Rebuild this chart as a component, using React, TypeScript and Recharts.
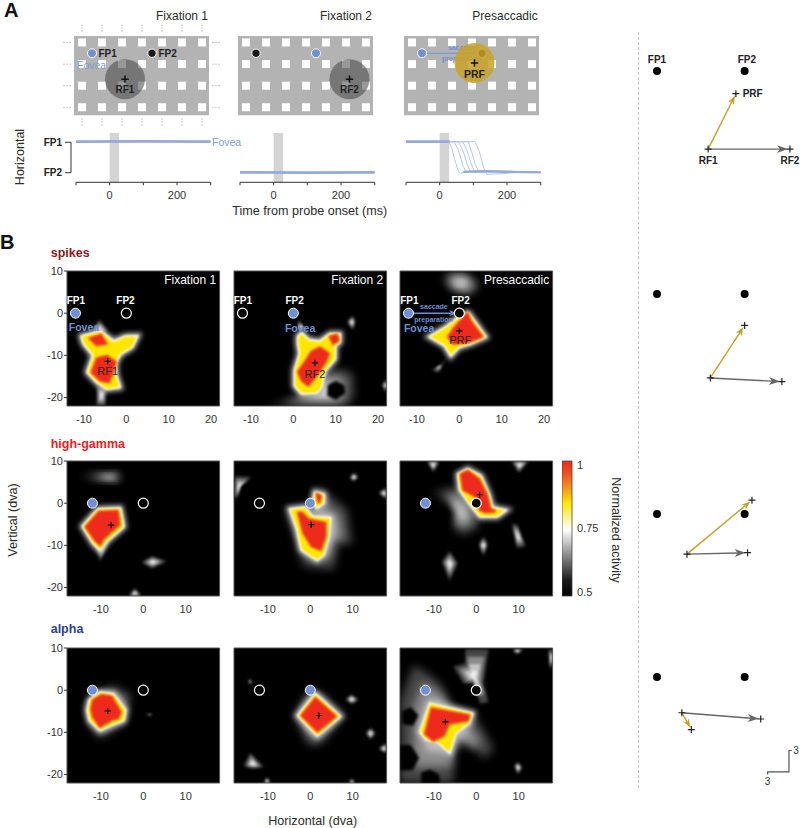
import React from 'react'
import {
  Bar,
  BarChart,
  Line,
  LineChart,
  ReferenceArea,
  Scatter,
  ScatterChart,
  XAxis,
  YAxis,
} from 'recharts'

type Pt = number[]

// stimulus display (dva)
const gridX = [-14, -10, -6, -2, 2, 6, 10]
const gridY = [2, -2, -6, -10]
const dotsLeft = [-17.6, -17, -16.4]
const dotsRight = [12.2, 12.8, 13.4]
const dotsAbove = [5.2, 4.7, 4.1]
const dotsBelow = [-12.2, -12.7, -13.3]

// eye traces, time (ms) vs horizontal position (dva)
const timeTicks = [-100, 0, 100, 200, 300]
const probeWindow = [0, 28]
const fixation1Trace = [[-100, -12], [100, -12.1], [300, -12]]
const fixation2Trace = [[-100, 0], [100, 0.1], [300, 0]]
const presaccadicStart = [[-100, -12], [30, -12]]
const presaccadicEnd = [[70, -0.2], [130, -0.4], [200, -0.2], [300, 0]]
const presaccadicTrials = [
  [[-100, -12], [25, -12], [35, -10], [45, -5], [55, -0.5], [62, 0.4], [75, -0.4], [120, -0.5], [300, 0]],
  [[-100, -12], [42, -12], [55, -9], [68, -3], [78, -0.2], [90, -0.3], [150, -0.6], [300, 0]],
  [[-100, -12], [55, -12], [68, -9], [82, -3], [92, -0.1], [110, -0.3], [180, -0.5], [300, 0]],
  [[-100, -12], [68, -12], [80, -9], [92, -4], [104, 0], [120, -0.2], [170, -0.6], [300, 0]],
  [[-100, -12], [85, -12], [95, -8], [106, -3], [116, -0.3], [140, -0.4], [220, -0.2], [300, 0]],
  [[-100, -12], [105, -12], [118, -8], [130, -2], [140, 0.8], [200, 0.4], [240, -0.2], [300, 0]],
]

// heat map contours per panel (dva)
const spikesFix1Body = [[[-10.5, -5.5], [-6.1, -4.4], [-3, -6.8], [-0.2, -5.6], [2.5, -5.5], [1.3, -8], [-1.4, -9.6], [-2.6, -11.6], [-2.6, -14.4], [-1.6, -17.5], [-4.6, -17.9], [-6.9, -16.3], [-9.1, -14], [-7.7, -10], [-10, -7.2]]]
const spikesFix1Core = [
  [[-6.9, -10.8], [-4.6, -10.2], [-2.6, -11.6], [-3.4, -14.4], [-4.2, -16.3], [-6.1, -15.9], [-8.1, -14]],
  [[-8.5, -6], [-6, -5.2], [-4.8, -7.2], [-7, -7.5]],
]
const spikesFix1Faint = [
  [[-8, -4], [-6.4, -1.5], [-4.5, -4], [-6, -6]],
  [[-7, -17], [-4.5, -17], [-5, -22], [-7, -22]],
]
const spikesFix2Body = [[[1.2, -5.5], [2, -4.8], [3.5, -6.4], [6.3, -6.8], [8.7, -5], [10.9, -5], [10.9, -6.8], [9.8, -7.6], [9.8, -10.8], [7.4, -13.6], [6.6, -17.5], [5.5, -18.8], [2, -19], [0.4, -17.2], [0.4, -13.6], [1.6, -9.6], [1.2, -7.2]]]
const spikesFix2Core = [
  [[4.3, -9.2], [6.3, -8.2], [8.3, -9.6], [7.5, -11.6], [5.1, -15.2], [3.5, -17.1], [2, -15.9], [1.2, -13.9], [2.8, -11.6]],
  [[8.7, -5.6], [10.2, -5.2], [10.6, -6.4], [9.4, -7.2]],
]
const spikesFix2Faint = [
  [[1, -4], [1.2, -1.6], [3, -4]],
  [[9.5, -13], [14, -14.2], [14.3, -19.7], [12.7, -22], [-6, -22], [0.4, -20.2], [4, -19]],
  [[12.7, -2], [14, -0.6], [14.6, -2], [14, -4]],
  [[21, -17], [22, -15.5], [22, -19]],
]
const spikesFix2Holes = [[[8, -17], [10, -16], [12, -17], [12.3, -19], [10, -20.6], [8, -19.6]]]
const spikesPreBody = [[[-6.9, -5.6], [-3, -3.3], [0.6, -0.5], [2.1, -0.1], [6.1, -5.6], [2.5, -7.2], [-0.2, -8], [-2, -10], [-3.4, -7.6]]]
const spikesPreCore = [[[-1, -3.3], [1.9, -0.1], [2.5, -1.7], [5.3, -5.5], [2.1, -6.8], [-1.4, -7.2], [-2.6, -5.6]]]
const spikesPreFaint = [
  [[-3.8, 7.9], [-2.2, 9.6], [1.7, 9.4], [4.9, 6.7], [2.5, 4.3], [-1.8, 5.5]],
  [[-6.5, -13.6], [-4.2, -12.4], [-2.6, -10], [-5, -14]],
]

const gammaFix1Body = [[[-14.2, -5.5], [-10.6, -1.5], [-5.5, -1.3], [-4.7, -5.5], [-8.7, -9], [-10.2, -11], [-11.8, -9.4]]]
const gammaFix1Core = [[[-13.5, -5.6], [-10.4, -2.1], [-6.1, -1.9], [-5.7, -5.1], [-9.4, -8.3], [-10.2, -9.8], [-11.4, -8.7]]]
const gammaFix1Faint = [
  [[-15, 6.4], [-6.3, 7.4], [-5.1, 6], [-6.3, 5]],
  [[-0.4, -14], [2, -12.6], [5.5, -13.8], [2, -15.4]],
  [[-3.5, -22], [-2, -20.2], [-0.4, -22]],
  [[-10.2, -13.8], [-11.4, -9.4], [-7.9, -8.7]],
]
const gammaFix2Body = [
  [[-4.7, -1.5], [-1.2, -1.1], [0.4, -3.3], [4.7, -3.5], [4.3, -7.9], [3.1, -12.2], [1.6, -13.4], [-2, -11], [-3.1, -6]],
  [[1.2, 2.5], [3.1, 2], [3.1, 0.1], [1.6, -1.1], [0.8, 0.5]],
]
const gammaFix2Core = [
  [[-2, -2.3], [-0.4, -3.9], [3.5, -4.7], [3.5, -7.9], [2.4, -11], [0.4, -10.2], [-1.6, -7], [-2.8, -2.3]],
  [[1.6, 2.1], [2.4, 1.7], [2, 0.1]],
]
const gammaFix2Faint = [
  [[2, 4], [8.7, -1.5], [9.9, -9.8], [6.7, -9.4], [5.5, -15.8], [-1.6, -15], [-3.5, -8.7], [-5.9, -1.5], [0, -0.7]],
  [[-17.7, 6.4], [-13.8, 6.2], [-16.5, 4.4], [-17.3, 0.9], [-18, 1.7]],
  [[9.3, 6], [10.2, 7.2], [11.4, 6.2], [10.2, 5.2]],
  [[16.1, 2.5], [18, 3.7], [18, 0.9]],
]
const gammaPreBody = [[[-4.2, 6.8], [-2, 8], [1, 6.4], [2.9, 2], [3.7, -1.1], [6.8, -1.7], [4.9, -3.1], [0.9, -3.1], [-1.4, -0.3], [-3.8, 3.2]]]
const gammaPreCore = [[[-3.6, 6.8], [-2, 7.6], [0.6, 5.6], [2.4, 2], [3.3, -1.5], [4.5, -1.9], [2.1, -2.1], [0.9, -1.5], [-0.2, 1.7], [-3, 3.2]]]
const gammaPreFaint = [
  [[-10.9, 2.5], [-5, 3.7], [-3, 1.7], [-0.2, -2.3], [0.6, -5.5], [-3, -7.5], [-5.4, -5.9], [-3.8, -2.3], [-6.9, 1.7]],
  [[-11.7, 10], [-8.7, 10], [-10.1, 7.4]],
  [[8.3, 10], [12.4, 10], [10, 7.2]],
  [[8.4, -5], [9.6, -5], [11.6, -10.2], [9.6, -10.6]],
  [[1.7, -7.9], [2.7, -9.8], [1.7, -12.5], [0.6, -9.8]],
  [[-6.3, -11.4], [-4.4, -14.2], [-6.3, -18.3], [-8.1, -13.8]],
]

const alphaFix1Body = [[[-12.6, -2.4], [-10.2, -0.6], [-7.1, -1], [-4.3, -4.7], [-4.7, -7.1], [-7.1, -8], [-10.2, -9.4], [-12.6, -7.1], [-13.1, -4.7]]]
const alphaFix1Core = [[[-11.8, -2.4], [-9.8, -1.2], [-7.5, -1.6], [-5.4, -5.2], [-5.9, -6.5], [-7.5, -7], [-10.2, -8.6], [-11.8, -6.3], [-12.2, -4.4]]]
const alphaFix1Faint = [
  [[-7.1, 1.2], [-2.8, -1.2], [-4.3, -7.9], [-10.2, -11.5], [-12.6, -8.7], [-13.4, -3.2], [-10.2, -0.4]],
  [[0.4, -5.8], [2, -5.6], [2, -6]],
]
const alphaFix2Body = [[[-2.8, -6], [1.2, -1], [6.9, -6.2], [1.6, -10.7]]]
const alphaFix2Core = [[[-2, -6], [1.2, -2], [5.9, -6.2], [1.7, -9.7]]]
const alphaFix2Faint = [
  [[-3.9, -6], [-0.8, -0.4], [2.4, -0.4], [8.3, -6], [2.4, -13], [-0.4, -13]],
  [[8.3, -2.2], [9.6, -1], [11.4, -2.2], [9.8, -3.3]],
  [[13.1, -10.2], [14.2, -8.9], [15.4, -10.2], [14.2, -11.7]],
  [[16.1, -13.9], [18, -12.5], [18, -15]],
  [[-15.7, -18], [-14.2, -14.9], [-11, -18.2], [-13.4, -18.6]],
  [[-14.6, 2], [-14.2, 2.8], [-13.8, 1.2]],
  [[-11, -22], [-10.2, -20.6], [-9.4, -22]],
  [[9, -22], [9.8, -21], [10.6, -22]],
]
const alphaPreBody = [[[-13.2, -9.9], [-10.9, -3.2], [-1, -5.6], [-1.8, -7.8], [-4.9, -10.2], [-6.3, -14.7], [-9.3, -12.1], [-11.7, -11.7]]]
const alphaPreCore = [[[-12, -10.3], [-10.5, -4.4], [-1.8, -6], [-2, -7.1], [-6.5, -7.9], [-7.7, -10.7], [-10.1, -11.9]]]
const alphaPreFaint = [
  [[-18, -2.4], [-14.8, 6], [-10.9, 3.6], [-8.5, 1.6], [-5.7, -3.6], [-0.6, -5.6], [4.1, -13.9], [1.9, -16.3], [-1.8, -12.3], [-5.2, -14.7], [-5.4, -22], [-18, -22]],
  [[-2.6, 9.7], [2.9, 9.7], [1.7, 1.6], [2.9, -2.8], [0.9, -3.2], [-0.6, 1.6], [-3, 1.6], [-5.4, 5.6], [-2.6, 6.3]],
  [[8.4, 9.7], [11.2, 9.7], [9.6, 8.6]],
  [[17.1, 9.7], [18, 9.7], [18, 5.2], [17.3, 5.6]],
  [[9, -17.9], [9.8, -17], [10.8, -18.3], [9.8, -20]],
]
const alphaPreHoles = [
  [[-17.5, -5], [-15.5, -4], [-13.6, -6], [-15, -8.5], [-17.5, -8]],
  [[-18, -13], [-15.5, -13], [-13.5, -16], [-15, -19], [-18, -19]],
  [[-13, -19.5], [-10.9, -18.8], [-8.8, -20], [-8.5, -22], [-13, -22]],
]

const spikesXTicks = [-10, 0, 10, 20]
const lfpXTicks = [-10, 0, 10]
const yTicks = [10, 0, -10, -20]
const colorbarTicks = [0.5, 0.75, 1]
const colorbarData = [{ name: 'activity', range: [0.484, 1.016] }]
const colorbarStops = [
  ['0%', '#ee2a1e'], ['8%', '#f04a1f'], ['20%', '#f6931e'], ['31%', '#ffe600'], ['40%', '#fff07a'],
  ['51%', '#ffffff'], ['70%', '#8a8a8a'], ['88%', '#1c1c1c'], ['100%', '#000000'],
]

// rf centres and shift vectors per band (dva)
const fp = [[-12, 0], [0, 0]]
const vectorRows = [
  { y0: 70.7, rf1: [-5, -10.7], rf2: [6.2, -10.7], prf: [-1.2, -3.1] },
  { y0: 293.7, rf1: [-4.7, -11.5], rf2: [5.1, -12], prf: [0, -4.3] },
  { y0: 513.7, rf1: [-7.9, -5.5], rf2: [0.4, -5.3], prf: [1, 1.9] },
  { y0: 676.7, rf1: [-8.6, -4.9], rf2: [2.2, -5.75], prf: [-7.3, -7.2] },
]
const scaleBar = [[3.15, -13.35], [3.15, -13], [6.07, -13], [6.07, -10.07], [6.45, -10.07]]

const FONT = '"Liberation Sans", Arial, sans-serif'
const BLUE = '#6f90d2'
const GOLD = '#c2a12b'
const TXT = '#2b2b2b'

const xy = (p: Pt) => ({ x: p[0], y: p[1] })
const rows = (pts: number[][]) => pts.map((p) => ({ t: p[0], v: p[1] }))
const noShape = () => <g />

function polygonLine(style: any) {
  return (p: any) => {
    const pts = (p.points || []).map((d: any) => `${d.x ?? d.cx},${d.y ?? d.cy}`).join(' ')
    return <polygon points={pts} {...style} />
  }
}

// faint peaks: nested copies pulled towards the middle, dark outside and bright inside
const FADE_STEPS = [
  [1, '#444444'],
  [0.72, '#8a8a8a'],
  [0.45, '#c4c4c4'],
  [0.2, '#f0f0f0'],
] as const

function fadeLine(p: any) {
  const pts = (p.points || []).map((d: any) => [d.x ?? d.cx, d.y ?? d.cy])
  const cx = pts.reduce((s: number, d: number[]) => s + d[0], 0) / pts.length
  const cy = pts.reduce((s: number, d: number[]) => s + d[1], 0) / pts.length
  const xs = pts.map((d: number[]) => d[0])
  const big = Math.max(...xs) - Math.min(...xs) > 36
  return (
    <g>
      {FADE_STEPS.map(([k, fill], i) => (
        <polygon
          key={k}
          points={pts.map((d: number[]) => `${cx + (d[0] - cx) * k},${cy + (d[1] - cy) * k}`).join(' ')}
          fill={fill}
          filter={big ? 'url(#blur4)' : i < 2 ? 'url(#blur2)' : 'url(#blur1)'}
        />
      ))}
    </g>
  )
}

function polygons(list: number[][][] | undefined, style: any, prefix: string) {
  return (list || []).map((poly, i) => (
    <Scatter
      key={prefix + i}
      data={poly.map(xy)}
      line={polygonLine(style)}
      shape={noShape}
      isAnimationActive={false}
    />
  ))
}

function fades(list: number[][][] | undefined) {
  return (list || []).map((poly, i) => (
    <Scatter key={'f' + i} data={poly.map(xy)} line={fadeLine} shape={noShape} isAnimationActive={false} />
  ))
}

function textShape(style: any) {
  return (p: any) => (
    <text x={p.cx} y={p.cy} dominantBaseline="central" fontFamily={FONT} {...style}>
      {p.payload?.label ?? p.label}
    </text>
  )
}

function texts(list: any[], style: any, key: string) {
  return <Scatter key={key} data={list} shape={textShape(style)} isAnimationActive={false} />
}

function circleShape(style: any) {
  return (p: any) => <circle cx={p.cx} cy={p.cy} {...style} />
}

function crossShape(half: number, width: number, color = '#111') {
  return (p: any) => (
    <path
      d={`M${p.cx - half},${p.cy}H${p.cx + half}M${p.cx},${p.cy - half}V${p.cy + half}`}
      stroke={color}
      strokeWidth={width}
      fill="none"
    />
  )
}

function marks(list: number[][], shape: any, key: string) {
  return <Scatter key={key} data={list.map(xy)} shape={shape} isAnimationActive={false} />
}

const foveaDot = circleShape({ r: 5, fill: BLUE, stroke: '#fff', strokeWidth: 1 })
const openDot = circleShape({ r: 5, fill: 'none', stroke: '#fff', strokeWidth: 1.2 })
const blackDot = circleShape({ r: 5, fill: '#000', stroke: '#fff', strokeWidth: 1.2 })

function At({ left, top, children }: any) {
  return <div style={{ position: 'absolute', left, top }}>{children}</div>
}

function Label({ x, y, size = 12.5, color = TXT, weight = 400, anchor = 'start', rotate = 0, children }: any) {
  const shift = anchor === 'end' ? '-100%' : anchor === 'middle' ? '-50%' : '0'
  return (
    <div
      style={{
        position: 'absolute',
        left: x,
        top: y,
        fontSize: size,
        color,
        fontWeight: weight,
        whiteSpace: 'nowrap',
        lineHeight: 1,
        transform: `translate(${shift},-50%) rotate(${rotate}deg)`,
        transformOrigin: anchor === 'middle' ? '50% 50%' : undefined,
      }}
    >
      {children}
    </div>
  )
}

const PW = 152.6
const PH = 135
const AXIS_W = 30
const PAD_TOP = 8

function HeatPanel({ left, top, xDomain, xTicks, showY, body, core, faint, holes, extras }: any) {
  return (
    <At left={left - AXIS_W} top={top - PAD_TOP}>
      <ScatterChart
        width={PW + AXIS_W + 4}
        height={PH + PAD_TOP + 32}
        margin={{ top: PAD_TOP, right: 4, bottom: 0, left: showY ? 0 : AXIS_W }}
      >
        <XAxis
          type="number"
          dataKey="x"
          domain={xDomain}
          ticks={xTicks}
          interval={0}
          allowDataOverflow
          axisLine={false}
          tickLine={false}
          height={32}
          tickMargin={3}
          tick={{ fontSize: 11, fill: '#333' }}
        />
        <YAxis
          type="number"
          dataKey="y"
          domain={[-22, 10]}
          ticks={yTicks}
          interval={0}
          allowDataOverflow
          hide={!showY}
          width={AXIS_W}
          axisLine={false}
          tickSize={3}
          tickLine={{ stroke: '#333' }}
          tickMargin={1}
          tick={{ fontSize: 11, fill: '#333' }}
        />
        <ReferenceArea x1={xDomain[0]} x2={xDomain[1]} y1={-22} y2={10} fill="#000" fillOpacity={1} stroke="#555" strokeWidth={1} />
        {fades(faint)}
        {polygons(holes, { fill: '#000', filter: 'url(#blur2)' }, 'h')}
        {polygons(body, { fill: '#bbb', stroke: '#bbb', strokeWidth: 7, filter: 'url(#blur3)' }, 'g')}
        {polygons(body, { fill: '#fff', stroke: '#fff', strokeWidth: 2.6, filter: 'url(#blur1)' }, 'w')}
        {polygons(body, { fill: '#ffe600', filter: 'url(#blurM)' }, 'b')}
        {polygons(core, { fill: '#f7931e', stroke: '#f7931e', strokeWidth: 3.4, filter: 'url(#blur1)' }, 'o')}
        {polygons(core, { fill: '#ee2a1e', stroke: '#ee2a1e', strokeWidth: 1.4, filter: 'url(#blurM)' }, 'c')}
        {extras}
      </ScatterChart>
    </At>
  )
}

function fovealMarks(blueAt: number, otherDot: any) {
  return [
    marks([fp[blueAt]], foveaDot, 'fov'),
    marks([fp[1 - blueAt]], otherDot, 'oth'),
  ]
}

const white = { fill: '#fff', fontSize: 10, fontWeight: 700, textAnchor: 'middle' }
const blueBold = { fill: BLUE, fontSize: 10.5, fontWeight: 700, textAnchor: 'middle' }
const dark = { fill: '#222', fontSize: 11, fontWeight: 500, textAnchor: 'middle' }
const title = { fill: '#fff', fontSize: 12, textAnchor: 'end' }

function arrowLine(color: string, headLen: number) {
  return (p: any) => {
    const [a, b] = p.points
    const dx = b.x - a.x
    const dy = b.y - a.y
    const len = Math.hypot(dx, dy)
    const ux = dx / len
    const uy = dy / len
    const tx = b.x - ux * 2
    const ty = b.y - uy * 2
    const bx = tx - ux * headLen
    const by = ty - uy * headLen
    const nx = tx - ux * headLen * 0.72
    const ny = ty - uy * headLen * 0.72
    const w = headLen * 0.36
    return (
      <g>
        <line x1={a.x} y1={a.y} x2={nx} y2={ny} stroke={color} strokeWidth={1.4} />
        <polygon
          points={`${tx},${ty} ${bx - uy * w},${by + ux * w} ${nx},${ny} ${bx + uy * w},${by - ux * w}`}
          fill={color}
        />
      </g>
    )
  }
}

const rowLabel = { fill: '#222', fontSize: 10, fontWeight: 700, textAnchor: 'middle' }
const V_SCALE = 7.3

function VectorRow({ row, index }: any) {
  const topDva = 25 / V_SCALE
  const bottomDva = -115 / V_SCALE
  return (
    <At left={640} top={row.y0 - 25}>
      <ScatterChart width={160} height={140} margin={{ top: 0, right: 0, bottom: 0, left: 0 }}>
        <XAxis type="number" dataKey="x" domain={[-14.33, 7.58]} hide />
        <YAxis type="number" dataKey="y" domain={[bottomDva, topDva]} hide />
        {marks(fp, circleShape({ r: 4, fill: '#000' }), 'fp')}
        <Scatter data={[row.rf1, row.prf].map(xy)} line={arrowLine(GOLD, 9)} shape={noShape} isAnimationActive={false} />
        <Scatter data={[row.rf1, row.rf2].map(xy)} line={arrowLine('#666', 11)} shape={noShape} isAnimationActive={false} />
        {marks([row.rf1, row.rf2, row.prf], crossShape(3.5, 1.2, '#222'), 'rf')}
        {index === 0 &&
          texts(
            [
              { x: -12, y: 1.6, label: 'FP1' },
              { x: 0.3, y: 1.6, label: 'FP2' },
              { x: -5, y: -12.2, label: 'RF1' },
              { x: 6.2, y: -12.2, label: 'RF2' },
              { x: 1.1, y: -3.1, label: 'PRF' },
            ],
            rowLabel,
            'lab',
          )}
        {index === 3 && (
          <Scatter data={scaleBar.map(xy)} line={{ stroke: '#555', strokeWidth: 1.2 }} shape={noShape} isAnimationActive={false} />
        )}
        {index === 3 &&
          texts(
            [
              { x: 3.15, y: -14.3, label: '3' },
              { x: 7.05, y: -10.1, label: '3' },
            ],
            { fill: '#333', fontSize: 10, textAnchor: 'middle' },
            'sc',
          )}
      </ScatterChart>
    </At>
  )
}

const gridPoints = gridX.flatMap((x) => gridY.map((y) => [x, y]))
const sideDots = [...dotsLeft, ...dotsRight].flatMap((x) => gridY.map((y) => [x, y]))
const endDots = gridX.flatMap((x) => [...dotsAbove, ...dotsBelow].map((y) => [x, y]))

const stimText = { fill: '#222', fontSize: 10, fontWeight: 700 }

function StimulusPanel({ left, ellipsis, children }: any) {
  return (
    <At left={left - 14} top={23}>
      <ScatterChart width={163} height={105.3} margin={{ top: 0, right: 0, bottom: 0, left: 0 }}>
        <XAxis type="number" dataKey="x" domain={[-18.4, 14.2]} hide />
        <YAxis type="number" dataKey="y" domain={[-13.9, 5.6]} hide />
        <ReferenceArea x1={-15.6} x2={11.4} y1={-11.5} y2={3.2} fill="#b3b3b3" fillOpacity={1} stroke="none" />
        {marks(
          gridPoints,
          (p: any) => <rect x={p.cx - 4} y={p.cy - 4} width={8} height={8} fill="#fff" />,
          'grid',
        )}
        {ellipsis && marks(sideDots, circleShape({ r: 0.6, fill: '#999' }), 'side')}
        {ellipsis && marks(endDots, circleShape({ r: 0.6, fill: '#999' }), 'end')}
        {children}
      </ScatterChart>
    </At>
  )
}

const stimBlue = circleShape({ r: 4.5, fill: BLUE, stroke: '#fff', strokeWidth: 1 })
const stimBlack = circleShape({ r: 4.2, fill: '#1a1a1a', stroke: '#fff', strokeWidth: 1 })
const rfCircle = circleShape({ r: 20, fill: '#444', fillOpacity: 0.55 })
const prfCircle = circleShape({ r: 20, fill: '#c9a227', fillOpacity: 0.85 })

function TracePanel({ left, children }: any) {
  return (
    <At left={left - 8} top={133.3}>
      <LineChart width={150.7} height={76} margin={{ top: 0, right: 8, bottom: 0, left: 8 }}>
        <XAxis
          type="number"
          dataKey="t"
          domain={[-100, 300]}
          ticks={timeTicks}
          interval={0}
          tickFormatter={(v: number) => (v === 0 || v === 200 ? String(v) : '')}
          height={26.7}
          axisLine={{ stroke: '#333' }}
          tickLine={{ stroke: '#333' }}
          tickSize={3}
          tickMargin={6}
          tick={{ fontSize: 11, fill: '#333' }}
        />
        <YAxis type="number" dataKey="v" domain={[-15.4, 3.9]} reversed hide />
        <ReferenceArea x1={probeWindow[0]} x2={probeWindow[1]} y1={-15.4} y2={3.9} fill="#d4d4d4" fillOpacity={1} stroke="none" />
        {children}
      </LineChart>
    </At>
  )
}

function traceLine(data: number[][], key: string, width = 2.7, color = '#93aadf') {
  return (
    <Line
      key={key}
      data={rows(data)}
      dataKey="v"
      stroke={color}
      strokeWidth={width}
      dot={false}
      isAnimationActive={false}
    />
  )
}

export default function App() {
  const spikesX = [-14, 22]
  const lfpX = [-18, 18]
  return (
    <div style={{ position: 'absolute', left: 0, top: 0, width: 800, height: 828, overflow: 'hidden', fontFamily: FONT, background: '#fff' }}>
      <svg width={0} height={0} style={{ position: 'absolute' }}>
        <defs>
          <filter id="blurM" x="-50%" y="-50%" width="200%" height="200%"><feGaussianBlur stdDeviation={0.8} /></filter>
          <filter id="blur1" x="-50%" y="-50%" width="200%" height="200%"><feGaussianBlur stdDeviation={1} /></filter>
          <filter id="blur2" x="-100%" y="-100%" width="300%" height="300%"><feGaussianBlur stdDeviation={1.8} /></filter>
          <filter id="blur3" x="-100%" y="-100%" width="300%" height="300%"><feGaussianBlur stdDeviation={2.6} /></filter>
          <filter id="blur4" x="-50%" y="-50%" width="200%" height="200%"><feGaussianBlur stdDeviation={4} /></filter>
          <linearGradient id="activityGrad" x1="0" y1="0" x2="0" y2="1">
            {colorbarStops.map(([o, c]) => <stop key={o} offset={o} stopColor={c} />)}
          </linearGradient>
        </defs>
      </svg>

      <Label x={4} y={10} size={20} weight={700} color="#111">A</Label>
      <Label x={0} y={242} size={20} weight={700} color="#111">B</Label>
      <Label x={208} y={16} anchor="end" size={12}>Fixation 1</Label>
      <Label x={372} y={16} anchor="end" size={12}>Fixation 2</Label>
      <Label x={537.7} y={16} anchor="end" size={12}>Presaccadic</Label>

      <StimulusPanel left={74} ellipsis>
        {marks([fp[0]], stimBlue, 'a1')}
        {marks([fp[1]], stimBlack, 'a2')}
        {texts([{ x: -10.7, y: 0, label: 'FP1' }, { x: 1.3, y: 0, label: 'FP2' }], stimText, 'a3')}
        {texts([{ x: -15, y: -2.2, label: 'Fovea' }], { fill: '#7f9bd8', fontSize: 10.5, fontWeight: 500 }, 'a4')}
        {marks([[-5.4, -4.8]], rfCircle, 'a5')}
        {marks([[-5.4, -4.8]], crossShape(3.7, 1.5, '#111'), 'a6')}
        {texts([{ x: -5.4, y: -6.8, label: 'RF1' }], { ...stimText, textAnchor: 'middle' }, 'a7')}
      </StimulusPanel>
      <StimulusPanel left={238.3}>
        {marks([fp[1]], stimBlue, 'b1')}
        {marks([fp[0]], stimBlack, 'b2')}
        {marks([[6.7, -4.8]], rfCircle, 'b5')}
        {marks([[6.7, -4.8]], crossShape(3.7, 1.5, '#111'), 'b6')}
        {texts([{ x: 6.7, y: -6.8, label: 'RF2' }], { ...stimText, textAnchor: 'middle' }, 'b7')}
      </StimulusPanel>
      <StimulusPanel left={404}>
        <Scatter data={fp.map(xy)} line={{ stroke: BLUE, strokeWidth: 1 }} shape={noShape} isAnimationActive={false} />
        {texts([{ x: -6.8, y: 1, label: 'saccade' }, { x: -8, y: -1, label: 'preparation' }], { fill: BLUE, fontSize: 7, fontWeight: 700 }, 'c0')}
        {marks([fp[0]], stimBlue, 'c1')}
        {marks([fp[1]], stimBlack, 'c2')}
        {marks([[-1.5, -1.8]], prfCircle, 'c5')}
        {marks([[-1.5, -1.8]], crossShape(3.7, 1.5, '#111'), 'c6')}
        {texts([{ x: -1.5, y: -3.9, label: 'PRF' }], { ...stimText, fontSize: 10.5, textAnchor: 'middle' }, 'c7')}
      </StimulusPanel>

      <Label x={20} y={157} anchor="middle" rotate={-90}>Horizontal</Label>
      <At left={16} top={136}>
        <LineChart width={60} height={42.7} margin={{ top: 6, right: 5, bottom: 6, left: 0 }}>
          <XAxis type="number" dataKey="t" hide domain={[-100, 300]} />
          <YAxis
            type="number"
            dataKey="v"
            reversed
            domain={[-12, 0]}
            ticks={[-12, 0]}
            interval={0}
            width={55}
            tickFormatter={(v: number) => (v === -12 ? 'FP1' : 'FP2')}
            axisLine={{ stroke: '#333' }}
            tickLine={{ stroke: '#333' }}
            tickSize={6}
            tickMargin={3}
            tick={{ fontSize: 10, fontWeight: 700, fill: '#222' }}
          />
          <Line data={rows(fixation1Trace)} dataKey="v" stroke="none" dot={false} isAnimationActive={false} />
        </LineChart>
      </At>
      <TracePanel left={76}>{traceLine(fixation1Trace, 'f1')}</TracePanel>
      <TracePanel left={240}>{traceLine(fixation2Trace, 'f2')}</TracePanel>
      <TracePanel left={405.7}>
        {presaccadicTrials.map((t, i) => traceLine(t, 'tr' + i, 1, '#b7c6ea'))}
        {traceLine(presaccadicStart, 'ps', 2.7)}
        {traceLine(presaccadicEnd, 'pe', 2.4)}
      </TracePanel>
      <Label x={212} y={142} size={10.5} color="#7f9bd8" weight={500}>Fovea</Label>
      <Label x={309.7} y={210.7} anchor="middle" size={12.6}>Time from probe onset (ms)</Label>

      <Label x={50.7} y={252.5} size={12.5} weight={700} color="#8b1a1f">spikes</Label>
      <HeatPanel
        left={67}
        top={270.7}
        xDomain={spikesX}
        xTicks={spikesXTicks}
        showY
        body={spikesFix1Body}
        core={spikesFix1Core}
        faint={spikesFix1Faint}
        extras={[
          ...fovealMarks(0, openDot),
          texts([{ x: -11.9, y: 3.1, label: 'FP1' }, { x: -0.2, y: 3.1, label: 'FP2' }], white, 's1'),
          texts([{ x: -10, y: -3.3, label: 'Fovea' }], blueBold, 's2'),
          marks([[-4.4, -11.4]], crossShape(3.2, 1.2), 's3'),
          texts([{ x: -4.4, y: -13.8, label: 'RF1' }], dark, 's4'),
          texts([{ x: 21.2, y: 7.9, label: 'Fixation 1' }], title, 's5'),
        ]}
      />
      <HeatPanel
        left={233.7}
        top={270.7}
        xDomain={spikesX}
        xTicks={spikesXTicks}
        body={spikesFix2Body}
        core={spikesFix2Core}
        faint={spikesFix2Faint}
        holes={spikesFix2Holes}
        extras={[
          ...fovealMarks(1, openDot),
          texts([{ x: -11.9, y: 3.1, label: 'FP1' }, { x: 0.3, y: 3.1, label: 'FP2' }], white, 's1'),
          texts([{ x: 1.6, y: -3.6, label: 'Fovea' }], blueBold, 's2'),
          marks([[5.1, -11.8]], crossShape(3.2, 1.2), 's3'),
          texts([{ x: 5.1, y: -14.5, label: 'RF2' }], dark, 's4'),
          texts([{ x: 21.2, y: 7.9, label: 'Fixation 2' }], title, 's5'),
        ]}
      />
      <HeatPanel
        left={399.7}
        top={270.7}
        xDomain={spikesX}
        xTicks={spikesXTicks}
        body={spikesPreBody}
        core={spikesPreCore}
        faint={spikesPreFaint}
        extras={[
          <Scatter key="sac" data={[[-11, 0], [0, 0]].map(xy)} line={arrowLine(BLUE, 8)} shape={noShape} isAnimationActive={false} />,
          marks([fp[1]], blackDot, 's0'),
          marks([fp[0]], foveaDot, 's9'),
          texts([{ x: -11.8, y: 3.1, label: 'FP1' }, { x: 0.3, y: 3.1, label: 'FP2' }], white, 's1'),
          texts([{ x: -6, y: 1.5, label: 'saccade' }, { x: -6.1, y: -1.5, label: 'preparation' }], { fill: BLUE, fontSize: 7, fontWeight: 700, textAnchor: 'middle' }, 's6'),
          texts([{ x: -9.5, y: -3.6, label: 'Fovea' }], blueBold, 's2'),
          marks([[0, -4.2]], crossShape(3.2, 1.2), 's3'),
          texts([{ x: 0.2, y: -6.3, label: 'PRF' }], dark, 's4'),
          texts([{ x: 21.2, y: 7.9, label: 'Presaccadic' }], title, 's5'),
        ]}
      />

      <Label x={50.7} y={443.5} size={12.5} weight={700} color="#ed1c24">high-gamma</Label>
      <HeatPanel
        left={67}
        top={461.3}
        xDomain={lfpX}
        xTicks={lfpXTicks}
        showY
        body={gammaFix1Body}
        core={gammaFix1Core}
        faint={gammaFix1Faint}
        extras={[...fovealMarks(0, openDot), marks([[-7.6, -5.2]], crossShape(3.2, 1.2), 'x')]}
      />
      <HeatPanel
        left={233.7}
        top={461.3}
        xDomain={lfpX}
        xTicks={lfpXTicks}
        body={gammaFix2Body}
        core={gammaFix2Core}
        faint={gammaFix2Faint}
        extras={[...fovealMarks(1, openDot), marks([[0.2, -5.1]], crossShape(3.2, 1.2), 'x')]}
      />
      <HeatPanel
        left={399.7}
        top={461.3}
        xDomain={lfpX}
        xTicks={lfpXTicks}
        body={gammaPreBody}
        core={gammaPreCore}
        faint={gammaPreFaint}
        extras={[...fovealMarks(0, blackDot), marks([[0.8, 2]], crossShape(3.2, 1.2), 'x')]}
      />

      <Label x={50.7} y={629} size={12.5} weight={700} color="#2e3f92">alpha</Label>
      <HeatPanel
        left={67}
        top={648.3}
        xDomain={lfpX}
        xTicks={lfpXTicks}
        showY
        body={alphaFix1Body}
        core={alphaFix1Core}
        faint={alphaFix1Faint}
        extras={[...fovealMarks(0, openDot), marks([[-8.4, -4.9]], crossShape(3.2, 1.2), 'x')]}
      />
      <HeatPanel
        left={233.7}
        top={648.3}
        xDomain={lfpX}
        xTicks={lfpXTicks}
        body={alphaFix2Body}
        core={alphaFix2Core}
        faint={alphaFix2Faint}
        extras={[...fovealMarks(1, openDot), marks([[2, -6]], crossShape(3.2, 1.2), 'x')]}
      />
      <HeatPanel
        left={399.7}
        top={648.3}
        xDomain={lfpX}
        xTicks={lfpXTicks}
        body={alphaPreBody}
        core={alphaPreCore}
        faint={alphaPreFaint}
        holes={alphaPreHoles}
        extras={[...fovealMarks(0, blackDot), marks([[-7.3, -7.5]], crossShape(3.2, 1.2), 'x')]}
      />

      <At left={562.3} top={452.7}>
        <BarChart width={45} height={151} data={colorbarData} barCategoryGap={0} margin={{ top: 8, right: 0, bottom: 8, left: 0 }}>
          <XAxis dataKey="name" hide />
          <YAxis
            orientation="right"
            type="number"
            domain={[0.484, 1.016]}
            ticks={colorbarTicks}
            interval={0}
            width={35}
            axisLine={false}
            tickLine={false}
            tickMargin={0}
            tickSize={5}
            tick={{ fontSize: 11, fill: '#333', textAnchor: 'start' }}
          />
          <Bar dataKey="range" fill="url(#activityGrad)" stroke="#444" strokeWidth={0.8} isAnimationActive={false} />
        </BarChart>
      </At>
      <Label x={616} y={530} anchor="middle" rotate={90} size={12.6}>Normalized activity</Label>
      <Label x={13.3} y={520} anchor="middle" rotate={-90} size={12.6}>Vertical (dva)</Label>
      <Label x={312.7} y={821} anchor="middle" size={12.6}>Horizontal (dva)</Label>

      <div style={{ position: 'absolute', left: 638, top: 32, height: 756, borderLeft: '1.5px dashed #c4c4c4' }} />
      {vectorRows.map((row, i) => <VectorRow key={i} row={row} index={i} />)}
    </div>
  )
}
